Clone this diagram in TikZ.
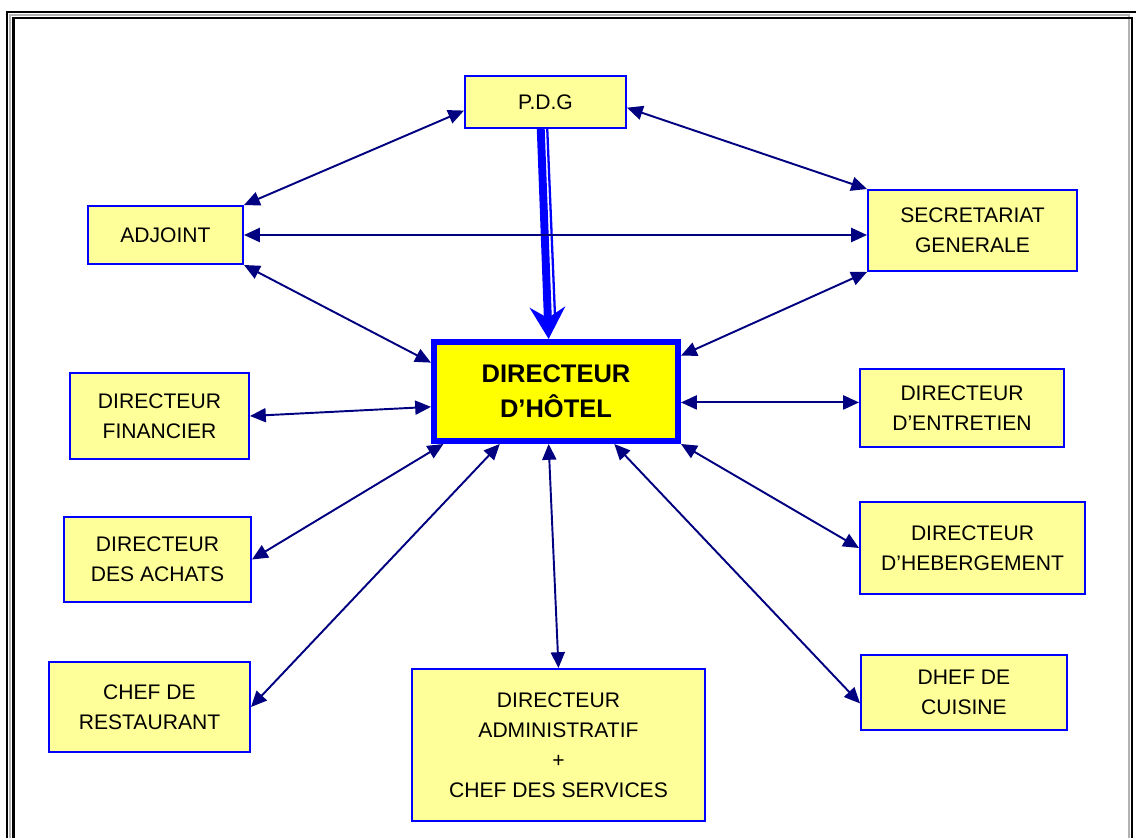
\documentclass[tikz,border=0pt]{standalone}
\usepackage{fontspec}
\setmainfont{Liberation Sans}
\usetikzlibrary{positioning,arrows.meta}

\definecolor{navy}{RGB}{0,0,128}
\definecolor{boxblue}{RGB}{0,0,255}
\definecolor{paleyellow}{RGB}{255,255,153}
\definecolor{hubyellow}{RGB}{255,255,0}

\tikzset{
  box/.style={draw=boxblue, line width=1.4pt, fill=paleyellow, align=center,
              inner sep=2pt, font=\fontsize{12}{17}\selectfont},
  hub/.style={draw=boxblue, line width=3.4pt, fill=hubyellow, align=center,
              inner sep=2pt, font=\fontsize{14.5}{20}\selectfont\bfseries},
  link/.style={{Triangle[length=9pt,width=8pt]}-{Triangle[length=9pt,width=8pt]},
               navy, line width=1.1pt},
  bigarrow/.style={-{Stealth[length=18pt,width=20pt,inset=6pt]},
                   boxblue, line width=4.5pt}
}

\begin{document}
\begin{tikzpicture}[on grid]
   \useasboundingbox (0,0) rectangle (22.72,-16.74);
   % double frame
   \draw[line width=1.1pt] (0.14,-17) -- (0.14,-0.24) -- (23,-0.24);
   \draw[gray!60, line width=0.6pt] (0.2,-17) -- (0.2,-0.3) -- (22.58,-0.3) -- (22.58,-17);
   \draw[line width=1.3pt] (0.27,-17) -- (0.27,-0.36) -- (22.64,-0.36) -- (22.64,-17);

   \node[hub, minimum width=4.88cm, minimum height=1.98cm] (hotel) at (11.12,-7.83) {DIRECTEUR\\D'HÔTEL};
   \node[box, minimum width=3.21cm, minimum height=1.03cm] (pdg) [above left=5.79cm and 0.21cm of hotel] {P.D.G};
   \node[box, minimum width=3.09cm, minimum height=1.15cm] (adj) [above left=3.13cm and 7.81cm of hotel] {ADJOINT};
   \node[box, minimum width=4.17cm, minimum height=1.61cm] (sec) [above right=3.22cm and 8.33cm of hotel] {SECRETARIAT\\GENERALE};
   \node[box, minimum width=3.57cm, minimum height=1.71cm] (fin) [below left=0.49cm and 7.93cm of hotel] {DIRECTEUR\\FINANCIER};
   \node[box, minimum width=4.07cm, minimum height=1.55cm] (ent) [below right=0.33cm and 8.12cm of hotel] {DIRECTEUR\\D'ENTRETIEN};
   \node[box, minimum width=3.73cm, minimum height=1.69cm] (ach) [below left=3.36cm and 7.97cm of hotel] {DIRECTEUR\\DES ACHATS};
   \node[box, minimum width=4.49cm, minimum height=1.83cm] (heb) [below right=3.13cm and 8.33cm of hotel] {DIRECTEUR\\D'HEBERGEMENT};
   \node[box, minimum width=4.01cm, minimum height=1.79cm] (rest) [below left=6.31cm and 8.13cm of hotel] {CHEF DE\\RESTAURANT};
   \node[box, minimum width=5.85cm, minimum height=3.03cm] (adm) [below right=7.07cm and 0.05cm of hotel] {DIRECTEUR\\ADMINISTRATIF\\+\\CHEF DES SERVICES};
   \node[box, minimum width=4.11cm, minimum height=1.49cm] (cui) [below right=6.02cm and 8.16cm of hotel] {DHEF DE\\CUISINE};

   % P.D.G to director
   \draw[boxblue, line width=1.3pt] ([xshift=0.13cm]pdg.260) -- ([xshift=0.13cm,yshift=0.4cm]hotel.98);
   \draw[bigarrow] (pdg.260) -- (hotel.98);

   \path[link]
       (pdg.186) edge (adj.north east)
       (pdg.-4) edge (sec.north west)
       (adj.east) edge (adj.east -| sec.west)
       (hotel.167) edge (adj.south east)
       (hotel.16) edge (sec.south west)
       (hotel.187) edge (fin.east)
       (hotel.-5) edge (hotel.-5 -| ent.west)
       (hotel.205) edge (ach.east)
       (hotel.south east) edge (heb.west)
       (hotel.223) edge (rest.east)
       (hotel.262) edge (adm.north)
       (hotel.-42) edge (cui.186);
\end{tikzpicture}
\end{document}
